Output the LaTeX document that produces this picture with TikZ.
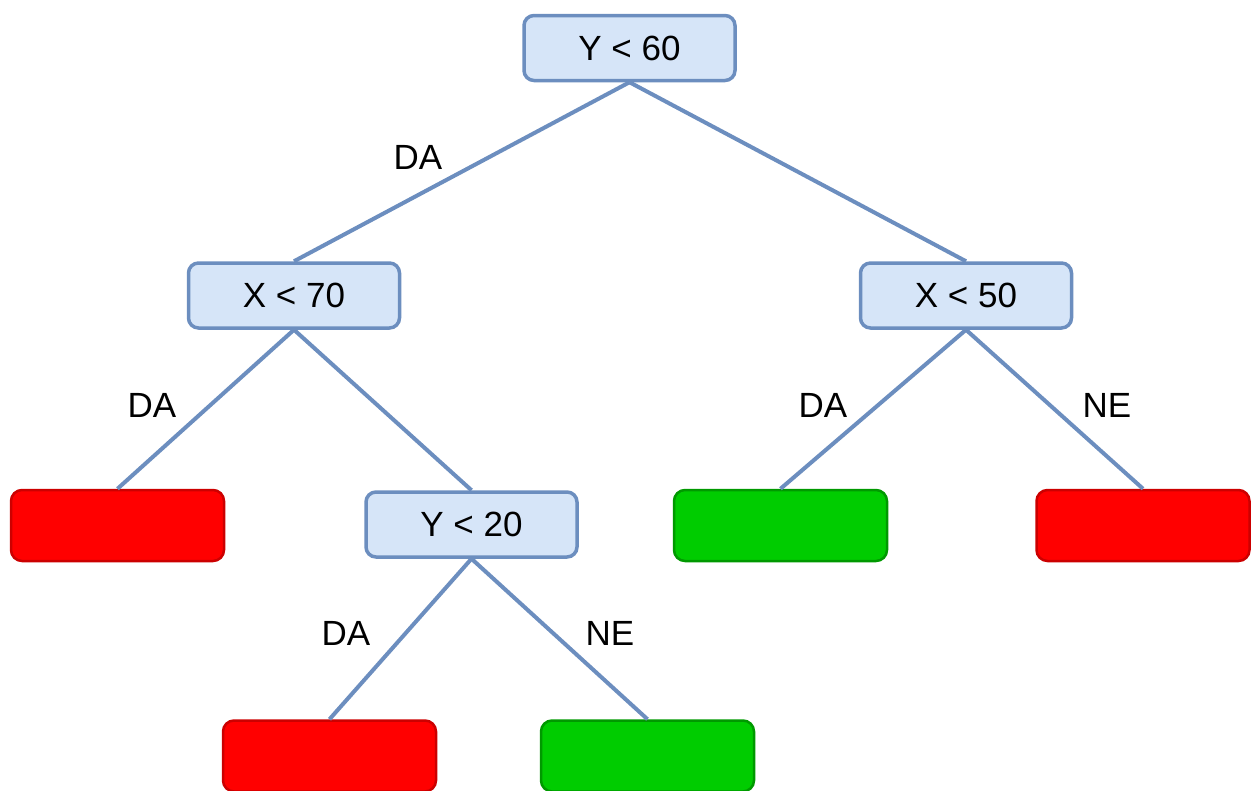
\documentclass[tikz,border=0pt]{standalone}
\usepackage{fontspec}
\setmainfont{Liberation Sans}
\definecolor{edgeblue}{HTML}{6C8EBF}
\definecolor{boxfill}{HTML}{D6E5F8}
\definecolor{leafred}{HTML}{FF0000}
\definecolor{redline}{HTML}{CC0000}
\definecolor{leafgreen}{HTML}{00CC00}
\definecolor{greenline}{HTML}{009900}
\tikzset{
  test/.style={draw=edgeblue, fill=boxfill, line width=3.5pt, rounded corners=10pt,
    minimum width=211pt, minimum height=65pt, inner sep=0pt,
    font=\fontsize{35}{42}\selectfont},
  redleaf/.style={draw=redline, fill=leafred, line width=2.5pt, rounded corners=11pt,
    minimum width=213pt, minimum height=71pt},
  greenleaf/.style={draw=greenline, fill=leafgreen, line width=2.5pt, rounded corners=11pt,
    minimum width=213pt, minimum height=71pt},
  edge/.style={draw=edgeblue, line width=4pt},
  lab/.style={font=\fontsize{35}{42}\selectfont, inner sep=0pt}
}
\begin{document}
\begin{tikzpicture}[x=1pt,y=-1pt]
\useasboundingbox (0,0) rectangle (1253,790);
\clip (0,0) rectangle (1253,790);
\node[test] (root) at (629.5,48) {Y < 60};
\node[test] (x70) at (294,295.5) {X < 70};
\node[test] (x50) at (966,295.5) {X < 50};
\node[test] (y20) at (471.5,524.5) {Y < 20};
\node[redleaf] (l1) at (117.5,525.5) {};
\node[greenleaf] (l2) at (780.5,525.5) {};
\node[redleaf] (l3) at (1143,525.5) {};
\node[redleaf] (l4) at (329.5,756) {};
\node[greenleaf] (l5) at (647.5,756) {};
\draw[edge] (root.south) -- (x70.north);
\draw[edge] (root.south) -- (x50.north);
\draw[edge] (x70.south) -- (l1.north);
\draw[edge] (x70.south) -- (y20.north);
\draw[edge] (x50.south) -- (l2.north);
\draw[edge] (x50.south) -- (l3.north);
\draw[edge] (y20.south) -- (l4.north);
\draw[edge] (y20.south) -- (l5.north);
\node[lab] (d1) at (418,157) {DA};
\node[lab] (d2) at (152,405) {DA};
\node[lab] (d3) at (823,405) {DA};
\node[lab] (n1) at (1107,405) {NE};
\node[lab] (d4) at (346,633) {DA};
\node[lab] (n2) at (610,633) {NE};
\end{tikzpicture}
\end{document}
